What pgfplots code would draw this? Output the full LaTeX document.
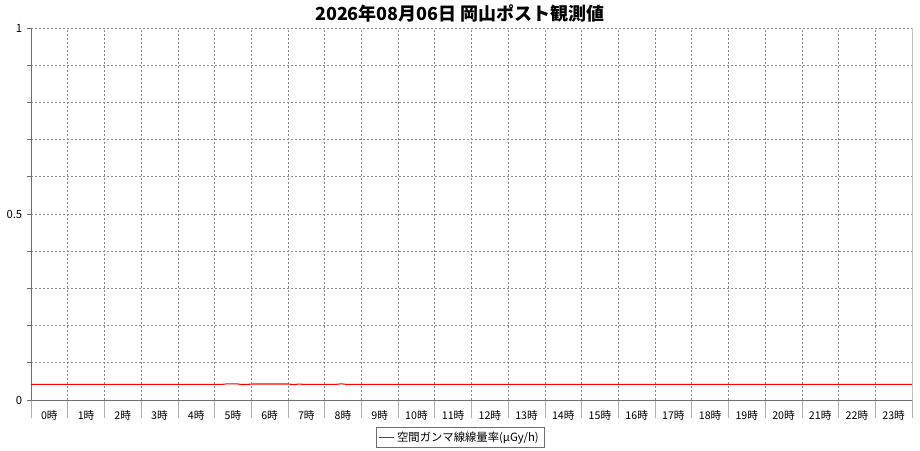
\documentclass[border=0pt]{standalone}
\usepackage{fontspec}
\setmainfont{Noto Sans CJK JP}
\usepackage{pgfplots}
\pgfplotsset{compat=1.18}
\definecolor{gridgray}{RGB}{140,140,140}
\definecolor{axgray}{RGB}{110,110,110}
\begin{document}
\begin{tikzpicture}
\path[use as bounding box] (0pt,0pt) rectangle (690pt,337.5pt);
\node[font=\bfseries\fontsize{13.5pt}{15pt}\selectfont] at (345pt,327pt) {2026年08月06日 岡山ポスト観測値};
\begin{axis}[
  at={(23.25pt,37.5pt)}, anchor=south west,
  scale only axis, width=660.75pt, height=279pt,
  xmin=0, xmax=24, ymin=0, ymax=1,
  /pgf/number format/assume math mode=true,
  tick label style={font=\fontsize{8pt}{9pt}\selectfont},
  yticklabel style={font=\fontsize{8.5pt}{9pt}\selectfont},
  xtick pos=bottom, ytick pos=left,
  xtick={0.5,1.5,...,23.5},
  xticklabels={0時,1時,2時,3時,4時,5時,6時,7時,8時,9時,10時,11時,12時,13時,14時,15時,16時,17時,18時,19時,20時,21時,22時,23時},
  major x tick style={draw=none},
  minor xtick={0,1,...,24},
  minor x tick style={draw=gridgray!70, line width=0.5pt},
  xminorgrids=true,
  ymajorgrids=true,
  grid style={gridgray, dash pattern=on 1.5pt off 1.5pt, line width=0.5pt},
  minor grid style={gridgray, dash pattern=on 1.5pt off 1.5pt, line width=0.5pt},
  tick align=outside,
  minor tick length=13.5pt,
  major tick length=3pt,
  ytick={0,0.1,...,1},
  yticklabels={0,,,,,0.5,,,,,1},
  y tick style={draw=axgray, line width=0.5pt},
  xticklabel style={yshift=-1pt},
  axis line style={draw=none},
  clip=false,
  legend style={at={(0.487,-0.1008)}, anchor=center, draw=axgray, line width=0.5pt,
    font=\fontsize{8.5pt}{9.5pt}\selectfont, inner xsep=2pt, inner ysep=1pt},
  legend image post style={line width=0.5pt},
  legend image code/.code={\draw[#1] (0cm,0cm) -- (0.4cm,0cm);},
]
\draw[gridgray, dash pattern=on 1.5pt off 1.5pt, line width=0.5pt] (axis cs:0,1) -- (axis cs:24,1);
\draw[gridgray!50, line width=0.7pt] (axis cs:24,0) -- (axis cs:24,1);
\draw[axgray, line width=0.7pt] (axis cs:0,1) -- (axis cs:0,0) -- (axis cs:24,0);
\addplot[red, line width=0.8pt, mark=none] coordinates {
(0,0.042) (1,0.042) (2,0.042) (3,0.042) (4,0.042) (5,0.042) (5.2,0.042)
(5.35,0.0435) (5.6,0.0435) (5.75,0.0415) (5.9,0.042) (6.05,0.043)
(6.5,0.043) (7.0,0.043) (7.15,0.0415) (7.3,0.0428) (7.45,0.042)
(8,0.042) (8.3,0.042) (8.45,0.0435) (8.6,0.042) (9,0.042)
(10,0.042) (12,0.042) (14,0.042) (16,0.042) (18,0.042) (20,0.042) (22,0.042) (24,0.042)
};
\addlegendentry{空間ガンマ線線量率(µGy/h)}
\end{axis}
\end{tikzpicture}
\end{document}
